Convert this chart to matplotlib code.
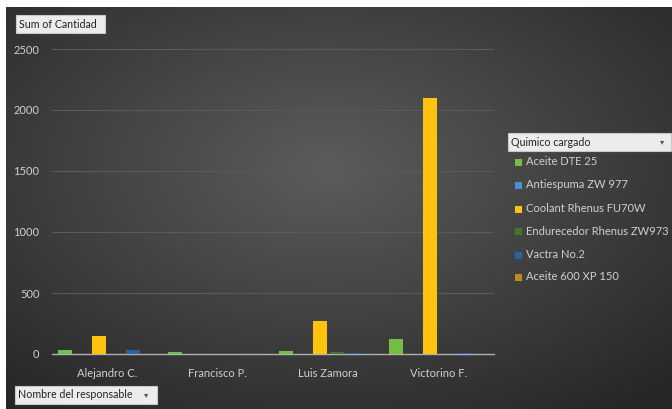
import numpy as np
import matplotlib
matplotlib.use("Agg")
import matplotlib.pyplot as plt
from matplotlib.patches import Rectangle

plt.rcParams['font.family'] = ['Lato', 'DejaVu Sans']

categories = ["Alejandro C.", "Francisco P.", "Luis Zamora", "Victorino F."]
series_names = ["Aceite DTE 25", "Antiespuma ZW 977", "Coolant Rhenus FU70W",
                "Endurecedor Rhenus ZW973", "Vactra No.2", "Aceite 600 XP 150"]
aceite_dte25 = [30, 20, 25, 120]
antiespuma = [0, 0, 0, 0]
coolant = [150, 0, 270, 2100]
endurecedor = [0, 0, 20, 0]
vactra = [30, 0, 5, 10]
aceite600 = [0, 0, 0, 0]
series_values = [aceite_dte25, antiespuma, coolant, endurecedor, vactra, aceite600]
colors = ["#72bf44", "#4a8fd8", "#ffc20e", "#3f7a2a", "#2b62a6", "#c08a1a"]
yticks = [0, 500, 1000, 1500, 2000, 2500]

W, H = 672, 409
fig = plt.figure(figsize=(W / 100, H / 100), dpi=100)
fig.patch.set_facecolor("white")

# background gradient
bg = fig.add_axes([6 / W, 0, 1 - 6 / W, 1 - 7 / H])
ny, nx = 200, 330
yy, xx = np.mgrid[0:ny, 0:nx]
cx, cy = nx * 0.48, ny * 0.40
d = np.sqrt(((xx - cx) / nx) ** 2 + ((yy - cy) / ny) ** 2)
d = np.clip(d / 0.75, 0, 1)
val = 0.36 - 0.21 * d
img = np.dstack([val, val, val])
bg.imshow(img, aspect="auto", extent=[0, 1, 0, 1], interpolation="bilinear")
bg.set_axis_off()

ax = fig.add_axes([52 / W, 1 - 354 / H, 442 / W, 305 / H])
ax.set_facecolor("none")
x = np.arange(len(categories))
step = 0.154
width = 0.127
for i, (vals, c) in enumerate(zip(series_values, colors)):
    ax.bar(x + (i - 2.5) * step, vals, width=width, color=c, zorder=3)

ax.set_xlim(-0.5, len(categories) - 0.5)
ax.set_ylim(0, 2500)
ax.set_yticks(yticks)
ax.set_yticklabels([str(t) for t in yticks])
ax.set_xticks(x)
ax.set_xticklabels(categories)
ax.tick_params(axis="both", length=0, colors="#d0d0d0", labelsize=8)
ax.tick_params(axis="y", pad=9)
ax.tick_params(axis="x", pad=10)
for s in ["top", "right", "left"]:
    ax.spines[s].set_visible(False)
ax.spines["bottom"].set_color("#b0b0b0")
ax.spines["bottom"].set_linewidth(1.0)
ax.grid(axis="y", color="#5a5a5a", linewidth=0.8, zorder=0)
ax.set_axisbelow(True)

def button(x0, y0, x1, y1, text, arrow=False, arrow_x=None):
    fx0, fy0 = x0 / W, 1 - y1 / H
    fw, fh = (x1 - x0) / W, (y1 - y0) / H
    r = Rectangle((fx0, fy0), fw, fh, transform=fig.transFigure,
                  facecolor="#ececec", edgecolor="#c8c8c8", linewidth=0.8, zorder=10)
    fig.add_artist(r)
    fig.text(fx0 + 3 / W, fy0 + fh / 2, text, fontsize=7.7, color="#222222",
             va="center", ha="left", zorder=11)
    if arrow:
        fig.text(arrow_x / W, fy0 + fh / 2, "▾", fontsize=6, color="#555555",
                 va="center", ha="center", family="DejaVu Sans", zorder=11)

button(16, 15, 105, 33, "Sum of Cantidad")
button(15, 386, 157, 404, "Nombre del responsable", arrow=True, arrow_x=146)
button(508, 133, 671, 151, "Quimico cargado", arrow=True, arrow_x=662)

leg_y = [162, 185, 209, 232, 255, 277]
for name, c, yv in zip(series_names, colors, leg_y):
    fig.add_artist(Rectangle((515 / W, 1 - (yv + 3.5) / H), 6.5 / W, 7 / H,
                             transform=fig.transFigure, facecolor=c,
                             edgecolor="none", zorder=10))
    fig.text(526 / W, 1 - yv / H, name, fontsize=8, color="#d0d0d0",
             va="center", ha="left", zorder=11)

fig.savefig("out.png", dpi=100)
